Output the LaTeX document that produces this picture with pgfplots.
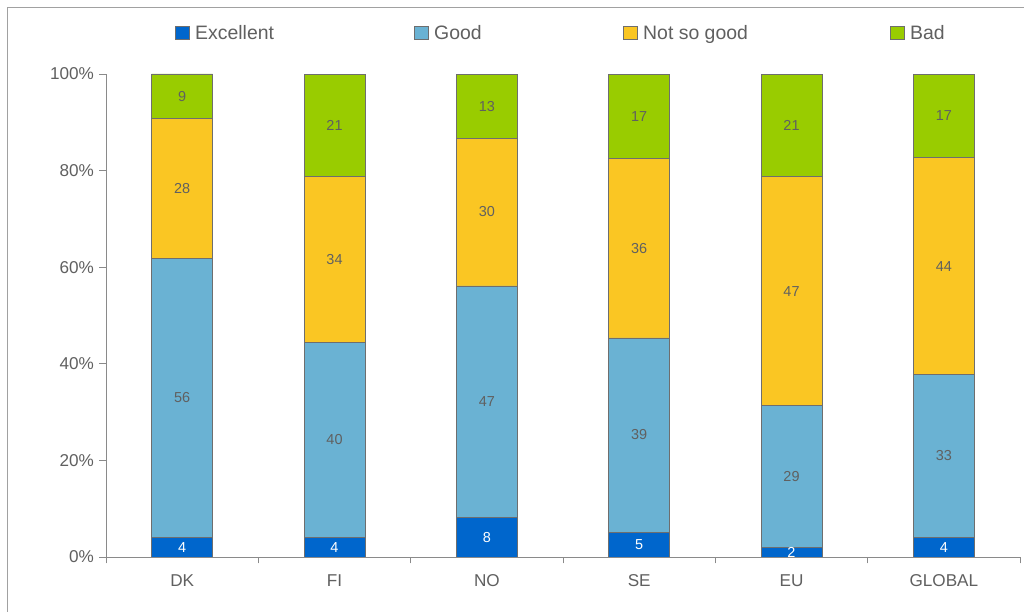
\documentclass[border=0pt]{standalone}
\usepackage{pgfplots}
\usepackage{pgfplotstable}
\pgfplotsset{compat=1.18}
\usepackage{fontspec}
\setmainfont{Liberation Sans}
\definecolor{cExc}{HTML}{0066CC}
\definecolor{cGood}{HTML}{6AB2D3}
\definecolor{cNSG}{HTML}{FAC623}
\definecolor{cBad}{HTML}{99CC00}
\definecolor{txt}{HTML}{606060}
\definecolor{axl}{HTML}{8A8A8A}
\definecolor{edge}{HTML}{6E6E6E}

\pgfplotstableread{
x Exc Good NSG Bad Tot
0 4 56 28 9 97
1 4 40 34 21 99
2 8 47 30 13 98
3 5 39 36 17 97
4 2 29 47 21 99
5 4 33 44 17 98
}\data

\pgfplotsset{
  common/.style={
    at={(106bp,55bp)}, anchor=south west,
    scale only axis, width=914bp, height=483bp,
    xmin=-0.5, xmax=5.5, ymin=0, ymax=100,
  },
}

\begin{document}
\begin{tikzpicture}
\useasboundingbox (0,0) rectangle (1024bp,612bp);
\fill[white] (0bp,0bp) rectangle (1024bp,612bp);
% frame: left and top edges only
\draw[color=axl!80, line width=1bp] (7bp,0bp) -- (7bp,604bp);
\draw[color=axl!80, line width=1bp] (7bp,604bp) -- (1024bp,604bp);

\begin{axis}[common,
  ybar stacked, bar width=61bp,
  axis x line*=bottom, axis y line*=left,
  axis line style={color=axl, line width=0.8pt},
  xtick={-0.5,0.5,1.5,2.5,3.5,4.5,5.5},
  xticklabels={DK,FI,NO,SE,EU,GLOBAL,{}},
  xticklabel style={font=\fontsize{17.2}{20}\selectfont, text=txt, xshift=76.2bp, yshift=-8bp},
  ytick={0,20,40,60,80,100},
  yticklabels={0\%,20\%,40\%,60\%,80\%,100\%},
  yticklabel style={font=\fontsize{17.2}{20}\selectfont, text=txt, xshift=-2bp},
  tick style={color=axl, line width=0.8pt},
  tick align=outside, major tick length=6.5bp,
  every axis plot/.append style={draw=edge, line width=0.8pt},
]
\addplot[fill=cExc] table[x=x, y expr=100*\thisrow{Exc}/\thisrow{Tot}] \data;
\addplot[fill=cGood] table[x=x, y expr=100*\thisrow{Good}/\thisrow{Tot}] \data;
\addplot[fill=cNSG] table[x=x, y expr=100*\thisrow{NSG}/\thisrow{Tot}] \data;
\addplot[fill=cBad] table[x=x, y expr=100*\thisrow{Bad}/\thisrow{Tot}] \data;
\end{axis}

\begin{axis}[common, hide axis, clip=false,
  nodes near coords, point meta=explicit symbolic,
  every node near coord/.style={anchor=center, font=\fontsize{14.5}{16}\selectfont, text=txt},
]
\addplot[draw=none, mark=none, every node near coord/.append style={text=white}]
  table[x=x, y expr=100*(0.5*\thisrow{Exc})/\thisrow{Tot}, meta=Exc] \data;
\addplot[draw=none, mark=none]
  table[x=x, y expr=100*(\thisrow{Exc}+0.5*\thisrow{Good})/\thisrow{Tot}, meta=Good] \data;
\addplot[draw=none, mark=none]
  table[x=x, y expr=100*(\thisrow{Exc}+\thisrow{Good}+0.5*\thisrow{NSG})/\thisrow{Tot}, meta=NSG] \data;
\addplot[draw=none, mark=none]
  table[x=x, y expr=100*(\thisrow{Exc}+\thisrow{Good}+\thisrow{NSG}+0.5*\thisrow{Bad})/\thisrow{Tot}, meta=Bad] \data;
\end{axis}

% legend
\begin{scope}[every node/.style={anchor=base west, inner sep=0pt, font=\fontsize{19.5}{22}\selectfont, text=txt}]
\draw[draw=edge, fill=cExc, line width=0.6pt] (175bp,573bp) rectangle (189bp,586bp);
\node at (195bp,572bp) {Excellent};
\draw[draw=edge, fill=cGood, line width=0.6pt] (414bp,573bp) rectangle (428bp,586bp);
\node at (434bp,572bp) {Good};
\draw[draw=edge, fill=cNSG, line width=0.6pt] (623bp,573bp) rectangle (637bp,586bp);
\node at (643bp,572bp) {Not so good};
\draw[draw=edge, fill=cBad, line width=0.6pt] (890bp,573bp) rectangle (904bp,586bp);
\node at (910bp,572bp) {Bad};
\end{scope}
\end{tikzpicture}
\end{document}
